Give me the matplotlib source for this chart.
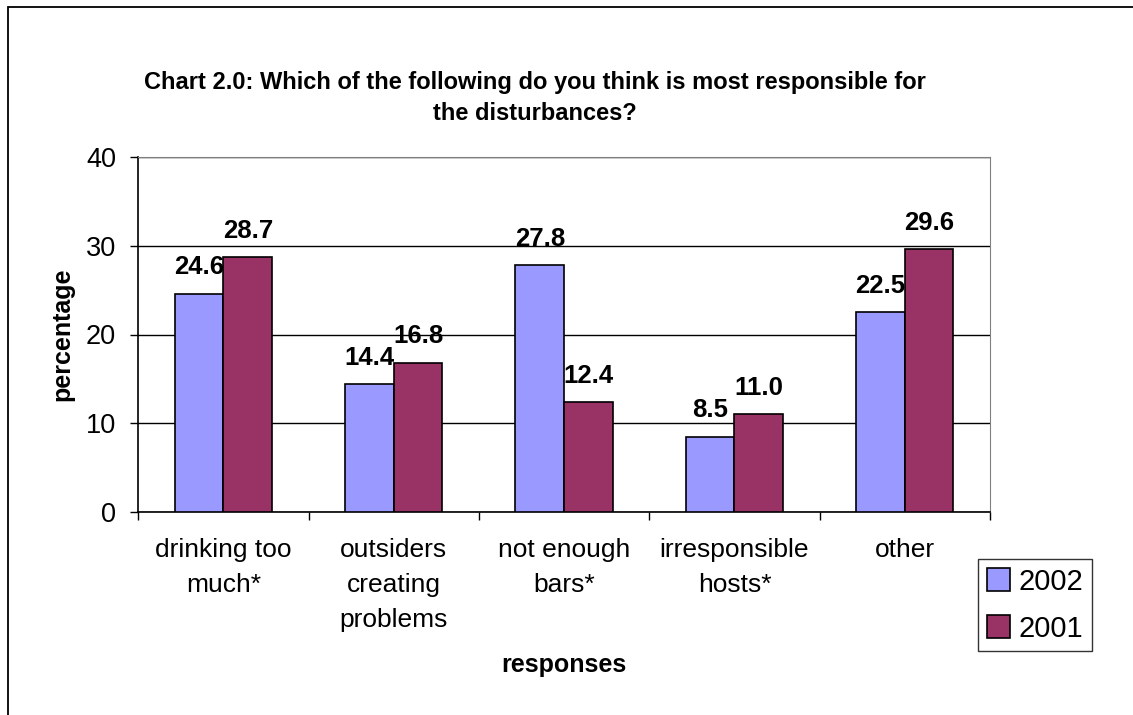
import numpy as np
import matplotlib
matplotlib.use('Agg')
import matplotlib.pyplot as plt
from matplotlib.patches import Rectangle

plt.rcParams['font.family'] = ['Liberation Sans', 'DejaVu Sans']

categories = ['drinking too\nmuch*', 'outsiders\ncreating\nproblems', 'not enough\nbars*',
              'irresponsible\nhosts*', 'other']
series_names = ['2002', '2001']
values_2002 = [24.6, 14.4, 27.8, 8.5, 22.5]
values_2001 = [28.7, 16.8, 12.4, 11.0, 29.6]
colors = ['#9999FF', '#993366']

fig = plt.figure(figsize=(11.33, 7.15), dpi=100)
ax = fig.add_axes([138.3 / 1133, 1 - 512 / 715, (990 - 138.3) / 1133, (512 - 157) / 715])

x = np.arange(len(categories))
w = 1 / 3.5
for k, (vals, name) in enumerate(zip([values_2002, values_2001], series_names)):
    pos = x + (k - 0.5) * w
    ax.bar(pos, vals, width=w, color=colors[k], edgecolor='black', linewidth=1.2,
           label=name, zorder=3)
    for px, v in zip(pos, vals):
        ax.annotate('%.1f' % v, (px, v), xytext=(0, 14), textcoords='offset points',
                    ha='center', va='baseline', fontsize=18.5, fontweight='bold', zorder=4)

ax.set_xlim(-0.5, len(categories) - 0.5)
ax.set_ylim(0, 40)
ax.set_yticks([0, 10, 20, 30, 40])
ax.yaxis.grid(True, color='black', linewidth=1, zorder=0)
ax.tick_params(axis='y', labelsize=19.5, length=6, width=1, pad=10)

ax.set_xticks(x)
ax.set_xticklabels(categories, fontsize=19, linespacing=1.58)
ax.tick_params(axis='x', which='major', length=0, pad=18.5)
ax.set_xticks(np.arange(len(categories) + 1) - 0.5, minor=True)
ax.tick_params(axis='x', which='minor', length=6, width=1)

for s in ['top', 'right']:
    ax.spines[s].set_color('#808080')
for s in ['left', 'bottom']:
    ax.spines[s].set_color('black')
    ax.spines[s].set_linewidth(1.2)

ax.set_ylabel('percentage', fontsize=18, fontweight='bold', labelpad=8)
ax.set_xlabel('responses', fontsize=18, fontweight='bold', labelpad=15)

fig.text(535 / 1133, 1 - 98 / 715,
         'Chart 2.0: Which of the following do you think is most responsible for\nthe disturbances?',
         ha='center', va='center', fontsize=17, fontweight='bold', linespacing=1.5)

leg = fig.legend(loc='upper left', bbox_to_anchor=(978 / 1133, 1 - 559 / 715),
                 fontsize=21, frameon=True, fancybox=False, edgecolor='black',
                 handlelength=0.8, handleheight=0.8, handletextpad=0.3,
                 borderpad=0.3, labelspacing=0.65, borderaxespad=0)
leg.get_frame().set_linewidth(1)

fig.patches.append(Rectangle((8 / 1133, -0.1), 1.2, 1 - 7 / 715 + 0.1, transform=fig.transFigure,
                             fill=False, edgecolor='black', linewidth=1.3))

fig.savefig('out.png', dpi=100)
